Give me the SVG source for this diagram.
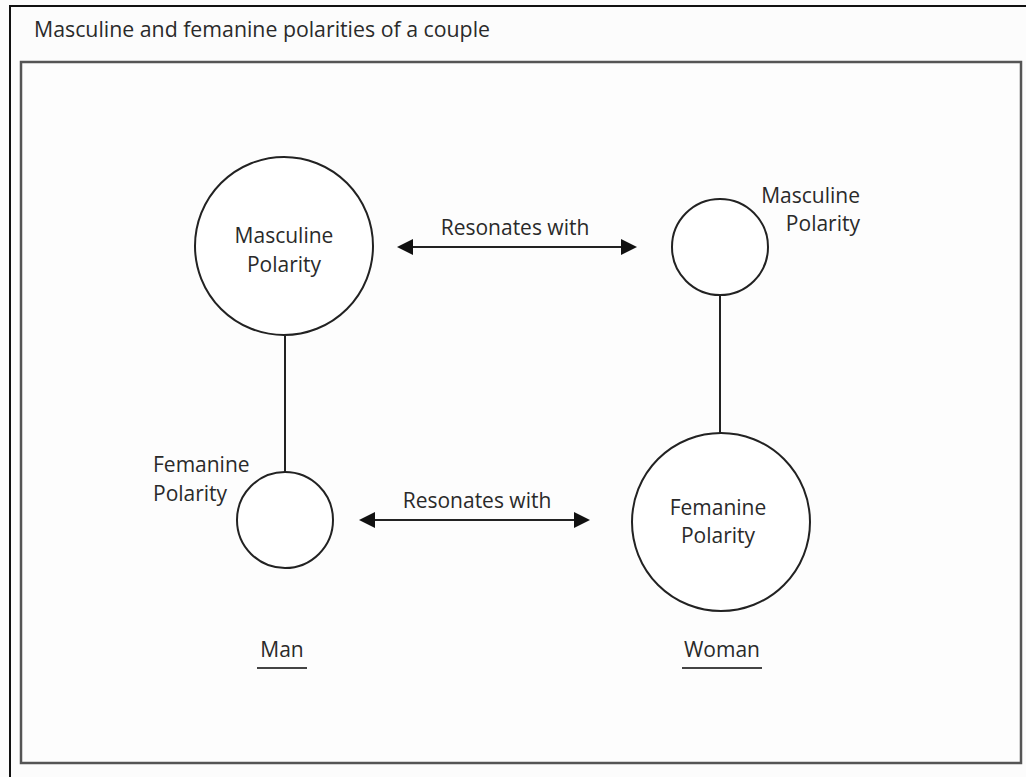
<svg xmlns="http://www.w3.org/2000/svg" width="1026" height="777" viewBox="0 0 1026 777">
  <style>
    .t { font-family: "Open Sans", "Liberation Sans", sans-serif; font-size: 21px; fill: #2a2a2a; }
    .c { fill: #fff; stroke: #222; stroke-width: 2; }
    .ln { stroke: #222; stroke-width: 2; fill: none; }
    .ul { stroke: #444; stroke-width: 2; }
  </style>
  <defs>
    <marker id="ah" viewBox="0 0 16 16" markerWidth="16" markerHeight="16" refX="4" refY="8" orient="auto-start-reverse" markerUnits="userSpaceOnUse">
      <path d="M0,0 L16,8 L0,16 z" fill="#111"/>
    </marker>
  </defs>
  <rect x="0" y="0" width="1026" height="777" fill="#fcfcfc"/>
  <g id="frame">
    <path d="M10,777 V6 H1026" fill="none" stroke="#111" stroke-width="2"/>
    <rect x="21" y="62" width="1000" height="701" fill="#fdfdfd" stroke="#555" stroke-width="2.5"/>
    <text class="t" x="34" y="37" font-size="20" textLength="456" lengthAdjust="spacingAndGlyphs">Masculine and femanine polarities of a couple</text>
  </g>
  <g id="connectors">
    <line class="ln" x1="285" y1="336" x2="285" y2="472"/>
    <line class="ln" x1="720" y1="296" x2="720" y2="433"/>
    <line class="ln" x1="409" y1="247" x2="625" y2="247" marker-start="url(#ah)" marker-end="url(#ah)"/>
    <text class="t" x="515" y="235" text-anchor="middle">Resonates with</text>
    <line class="ln" x1="371" y1="520" x2="578" y2="520" marker-start="url(#ah)" marker-end="url(#ah)"/>
    <text class="t" x="477" y="508" text-anchor="middle">Resonates with</text>
  </g>
  <g id="man-masculine">
    <circle class="c" cx="284" cy="246" r="89"/>
    <text class="t" x="284" y="243" text-anchor="middle">Masculine</text>
    <text class="t" x="284" y="272" text-anchor="middle">Polarity</text>
  </g>
  <g id="man-femanine">
    <circle class="c" cx="285" cy="520" r="48"/>
    <text class="t" x="153" y="472">Femanine</text>
    <text class="t" x="153" y="501">Polarity</text>
  </g>
  <g id="woman-masculine">
    <circle class="c" cx="720" cy="247" r="48"/>
    <text class="t" x="860" y="203" text-anchor="end">Masculine</text>
    <text class="t" x="860" y="231" text-anchor="end">Polarity</text>
  </g>
  <g id="woman-femanine">
    <circle class="c" cx="721" cy="522" r="89"/>
    <text class="t" x="718" y="515" text-anchor="middle">Femanine</text>
    <text class="t" x="718" y="543" text-anchor="middle">Polarity</text>
  </g>
  <g id="man-label">
    <text class="t" x="282" y="657" text-anchor="middle">Man</text>
    <line class="ul" x1="257" y1="668" x2="307" y2="668"/>
  </g>
  <g id="woman-label">
    <text class="t" x="722" y="657" text-anchor="middle">Woman</text>
    <line class="ul" x1="682" y1="668" x2="762" y2="668"/>
  </g>
</svg>
